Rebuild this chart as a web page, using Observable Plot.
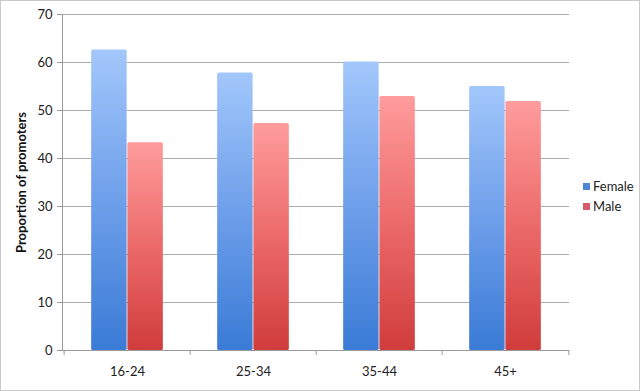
<!DOCTYPE html>
<html><head><meta charset="utf-8">
<script src="https://cdn.jsdelivr.net/npm/d3@7"></script>
<script src="https://cdn.jsdelivr.net/npm/@observablehq/plot@0.6"></script>
<style>
body{margin:0;background:#fff;}
#wrap{position:relative;width:640px;height:391px;overflow:hidden;font-family:Lato,"Open Sans",sans-serif;}
#chart svg{display:block;}
#border{position:absolute;left:0;top:0;width:640px;height:391px;box-sizing:border-box;border:1px solid #c9c9c9;pointer-events:none;}
.legend{position:absolute;left:583px;font-size:13px;color:#222;display:flex;align-items:center;line-height:16px;}
.sw{display:inline-block;width:7px;height:7px;margin-right:3px;}
</style></head><body>
<div id="wrap"><div id="chart"></div><div id="legend"></div><div id="border"></div></div>
<script>
const ages = ["16-24", "25-34", "35-44", "45+"];
const female = [62.6, 57.8, 60.1, 55.0];
const male = [43.3, 47.3, 52.9, 51.9];
const yTicks = [0, 10, 20, 30, 40, 50, 60, 70];
const seriesNames = ["Female", "Male"];
const yTitle = "Proportion of promoters";

const W = 640, H = 391, ML = 62, MR = 71, MT = 14, MB = 41;
const bw = (W - ML - MR) / ages.length;
const outer = bw * 0.2143, half = bw * 0.5;

const fRows = ages.map((a, i) => ({age: a, value: female[i]}));
const mRows = ages.map((a, i) => ({age: a, value: male[i]}));

const svg = Plot.plot({
  width: W, height: H,
  marginLeft: ML, marginRight: MR, marginTop: MT, marginBottom: MB,
  style: {fontFamily: "Lato, 'Open Sans', sans-serif", fontSize: "13px", color: "#222", background: "transparent"},
  x: {domain: ages, padding: 0, label: null},
  y: {domain: [0, 70], label: null},
  marks: [
    Plot.gridY(yTicks.filter(d => d > 0), {stroke: "#adadad", strokeOpacity: 1}),
    Plot.barY(fRows, {x: "age", y: "value", fill: "url(#gF)", insetLeft: outer, insetRight: half, rx: 1.5}),
    Plot.barY(mRows, {x: "age", y: "value", fill: "url(#gM)", insetLeft: half, insetRight: outer, rx: 1.5}),
    Plot.ruleY([0], {stroke: "#9a9a9a"}),
    Plot.frame({anchor: "left", stroke: "#9a9a9a"}),
    Plot.axisY(yTicks, {tickSize: 5, tickPadding: 5, stroke: "#9a9a9a", fill: "#222", label: null}),
    Plot.axisX(ages, {tickSize: 5, dx: -bw / 2, stroke: "#9a9a9a", tickFormat: () => "", label: null}),
    Plot.axisX([ages[ages.length - 1]], {tickSize: 5, dx: bw / 2, stroke: "#9a9a9a", tickFormat: () => "", label: null}),
    Plot.axisX(ages, {tickSize: 0, tickPadding: 16, fill: "#222", label: null}),
    Plot.text([yTitle], {frameAnchor: "left", textAnchor: "middle", rotate: -90, dx: -41, fontWeight: "bold", fontSize: 13, fill: "#111", text: d => d})
  ]
});

d3.select(svg).insert("defs", ":first-child").html(`
  <linearGradient id="gF" x1="0" y1="0" x2="0" y2="1">
    <stop offset="0" stop-color="#a2c7fb"/>
    <stop offset="0.5" stop-color="#6e9fea"/>
    <stop offset="1" stop-color="#3a7bd6"/>
  </linearGradient>
  <linearGradient id="gM" x1="0" y1="0" x2="0" y2="1">
    <stop offset="0" stop-color="#ff9c9c"/>
    <stop offset="0.5" stop-color="#ec6a6a"/>
    <stop offset="1" stop-color="#d03c3c"/>
  </linearGradient>`);

document.getElementById("chart").appendChild(svg);

const swColors = ["#4f86d4", "#d9596a"];
const leg = document.getElementById("legend");
seriesNames.forEach((n, i) => {
  const d = document.createElement("div");
  d.className = "legend";
  d.style.top = (178 + i * 20) + "px";
  d.innerHTML = `<span class="sw" style="background:${swColors[i]}"></span>${n}`;
  leg.appendChild(d);
});
</script>
</body></html>
